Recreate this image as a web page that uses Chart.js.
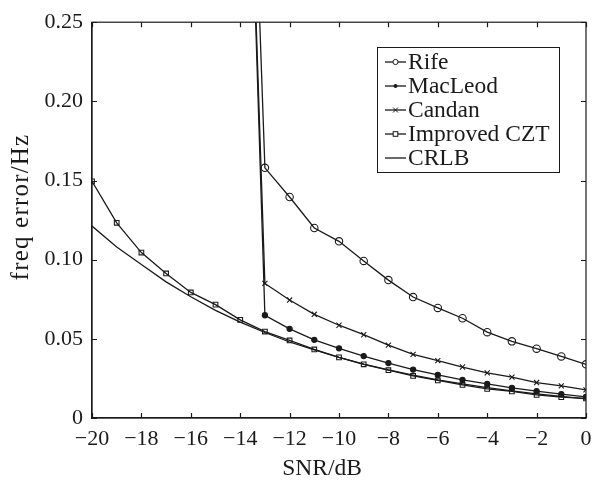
<!DOCTYPE html>
<html>
<head>
<meta charset="utf-8">
<script src="https://cdn.jsdelivr.net/npm/chart.js@4/dist/chart.umd.min.js"></script>
<style>
html,body{margin:0;padding:0;background:#fff;}
#wrap{width:593px;height:482px;}
</style>
</head>
<body>
<div id="wrap"><canvas id="c" width="593" height="482"></canvas></div>
<script>
const snr = [-20,-19,-18,-17,-16,-15,-14,-13,-12,-11,-10,-9,-8,-7,-6,-5,-4,-3,-2,-1,0];
const rife = [null,null,null,null,null,null,0.60,0.158,0.1396,0.120,0.1116,0.0992,0.0871,0.0764,0.0695,0.063,0.0542,0.0484,0.0438,0.0389,0.0339];
const macleod = [null,null,null,null,null,null,0.56,0.0649,0.0563,0.0494,0.044,0.0391,0.0347,0.0306,0.0272,0.0241,0.0215,0.019,0.017,0.0151,0.0134];
const candan = [null,null,null,null,null,null,0.55,0.085,0.0745,0.0655,0.0586,0.0526,0.046,0.0402,0.0362,0.0322,0.0285,0.0258,0.0224,0.0203,0.0178];
const improvedCZT = [0.1495,0.1233,0.1045,0.0913,0.0793,0.0716,0.062,0.0546,0.049,0.0433,0.0383,0.0339,0.0302,0.0266,0.0237,0.0209,0.0184,0.0168,0.0146,0.0132,0.0124];
const crlb = [0.1212,0.108,0.097,0.086,0.0766,0.068,0.0606,0.054,0.048,0.043,0.0383,0.0341,0.0304,0.0271,0.0241,0.0215,0.0192,0.0171,0.0152,0.0136,0.0121];
const seriesNames = ['Rife','MacLeod','Candan','Improved CZT','CRLB'];
const xTicks = [-20,-18,-16,-14,-12,-10,-8,-6,-4,-2,0];
const yTicks = [0,0.05,0.10,0.15,0.20,0.25];
const xTitle = 'SNR/dB';
const yTitle = 'freq error/Hz';

const FONT = '"Liberation Serif", "Times New Roman", serif';
const INK = '#1a1a1a';

function pts(arr){ return snr.map((x,i)=>({x:x,y:arr[i]})); }

const styles = [
  {pointStyle:'circle', radius:3.7, bg:'rgba(0,0,0,0)'},
  {pointStyle:'circle', radius:2.6, bg:INK},
  {pointStyle:'crossRot', radius:3.6, bg:INK},
  {pointStyle:'rect', radius:3.3, bg:'rgba(0,0,0,0)'},
  {pointStyle:false, radius:0, bg:INK}
];
const seriesData = [rife, macleod, candan, improvedCZT, crlb];

const datasets = seriesData.map((d,i)=>({
  label: seriesNames[i],
  data: pts(d),
  borderColor: INK,
  borderWidth: 1.3,
  backgroundColor: styles[i].bg,
  pointStyle: styles[i].pointStyle,
  pointRadius: styles[i].radius,
  pointBorderColor: INK,
  pointBorderWidth: 1.1,
  pointBackgroundColor: styles[i].bg,
  tension: 0,
  spanGaps: false,
  fill: false
}));

const framePlugin = {
  id: 'frame',
  afterDraw(chart){
    const ctx = chart.ctx, a = chart.chartArea;
    const xs = chart.scales.x, ys = chart.scales.y;
    ctx.save();
    ctx.strokeStyle = INK;
    ctx.lineWidth = 1.2;
    ctx.strokeRect(a.left, a.top, a.right-a.left, a.bottom-a.top);
    const L = 5;
    ctx.beginPath();
    xTicks.forEach(v=>{
      const px = Math.round(xs.getPixelForValue(v))+0.5;
      ctx.moveTo(px, a.bottom); ctx.lineTo(px, a.bottom-L);
      ctx.moveTo(px, a.top); ctx.lineTo(px, a.top+L);
    });
    yTicks.forEach(v=>{
      const py = Math.round(ys.getPixelForValue(v))+0.5;
      ctx.moveTo(a.left, py); ctx.lineTo(a.left+L, py);
      ctx.moveTo(a.right, py); ctx.lineTo(a.right-L, py);
    });
    ctx.stroke();

    // axis titles
    ctx.fillStyle = INK;
    ctx.textAlign = 'center';
    ctx.textBaseline = 'middle';
    ctx.font = '23.5px ' + FONT;
    ctx.fillText(xTitle, 322, 469);
    ctx.save();
    ctx.translate(21, 207);
    ctx.rotate(-Math.PI/2);
    ctx.font = '25px ' + FONT;
    ctx.letterSpacing = '1.2px';
    ctx.fillText(yTitle, 0, 0);
    ctx.restore();

    // legend box
    const bx = 377, by = 47, bw = 182, bh = 125;
    ctx.fillStyle = '#fff';
    ctx.fillRect(bx, by, bw, bh);
    ctx.strokeStyle = INK;
    ctx.lineWidth = 1;
    ctx.strokeRect(bx+0.5, by+0.5, bw, bh);
    ctx.font = '23.5px ' + FONT;
    ctx.textBaseline = 'middle';
    ctx.textAlign = 'left';
    seriesNames.forEach((name,i)=>{
      const y = 62 + i*24;
      ctx.strokeStyle = INK;
      ctx.lineWidth = 1.3;
      ctx.beginPath(); ctx.moveTo(385,y); ctx.lineTo(406,y); ctx.stroke();
      const cx = 395.5;
      ctx.lineWidth = 1;
      if (i===0){ ctx.beginPath(); ctx.arc(cx,y,2.6,0,Math.PI*2); ctx.fillStyle='#fff'; ctx.fill(); ctx.stroke(); }
      else if (i===1){ ctx.beginPath(); ctx.arc(cx,y,2,0,Math.PI*2); ctx.fillStyle=INK; ctx.fill(); }
      else if (i===2){ ctx.beginPath(); ctx.moveTo(cx-2.5,y-2.5); ctx.lineTo(cx+2.5,y+2.5); ctx.moveTo(cx-2.5,y+2.5); ctx.lineTo(cx+2.5,y-2.5); ctx.stroke(); }
      else if (i===3){ ctx.fillStyle='#fff'; ctx.fillRect(cx-2.3,y-2.3,4.6,4.6); ctx.strokeRect(cx-2.3,y-2.3,4.6,4.6); }
      ctx.fillStyle = INK;
      ctx.fillText(name, 408, y+1);
    });
    ctx.restore();
  }
};

new Chart(document.getElementById('c'), {
  type: 'line',
  data: { datasets: datasets },
  options: {
    responsive: false,
    animation: false,
    devicePixelRatio: 1,
    layout: { padding: { left: 0, right: 0, top: 20, bottom: 0 } },
    plugins: { legend: { display: false }, tooltip: { enabled: false } },
    scales: {
      x: {
        type: 'linear', min: -20, max: 0,
        afterFit(s){ s.height = 64; s.paddingRight = 7; s.paddingLeft = 0; },
        afterBuildTicks(s){ s.ticks = xTicks.map(v=>({value:v})); },
        grid: { display: false, drawTicks: false },
        border: { display: true, color: INK, width: 1.2 },
        ticks: {
          padding: 8, color: INK, font: { family: FONT, size: 22 },
          maxRotation: 0, autoSkip: false,
          callback: v => v < 0 ? '\u2212' + Math.abs(v) : String(v)
        },
        title: { display: false }
      },
      y: {
        type: 'linear', min: 0, max: 0.25,
        afterFit(s){ s.width = 92; },
        afterBuildTicks(s){ s.ticks = yTicks.map(v=>({value:v})); },
        grid: { display: false, drawTicks: false },
        border: { display: true, color: INK, width: 1.2 },
        ticks: {
          padding: 9, color: INK, font: { family: FONT, size: 22 },
          callback: v => v === 0 ? '0' : v.toFixed(2)
        },
        title: { display: false }
      }
    }
  },
  plugins: [framePlugin]
});
</script>
</body>
</html>
